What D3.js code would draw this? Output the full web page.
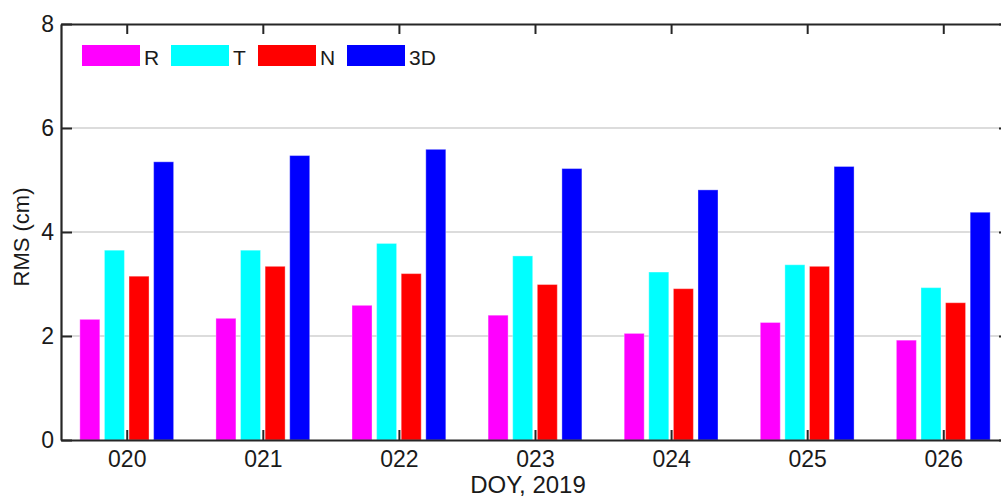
<!DOCTYPE html>
<html>
<head>
<meta charset="utf-8">
<script src="https://cdn.jsdelivr.net/npm/d3@7/dist/d3.min.js"></script>
<style>
  html, body { margin: 0; padding: 0; background: #fff; }
  svg { display: block; font-family: "Liberation Sans", Arial, Helvetica, sans-serif; }
</style>
</head>
<body>
<svg id="chart" width="1001" height="497"></svg>
<script>
// Day-of-year labels and RMS values (cm) for each component
const days = ["020", "021", "022", "023", "024", "025", "026"];
const series = ["R", "T", "N", "3D"];
const colors = ["#ff00ff", "#00ffff", "#ff0000", "#0000ff"];
const rmsR  = [2.32, 2.34, 2.59, 2.40, 2.05, 2.26, 1.92];
const rmsT  = [3.65, 3.65, 3.78, 3.54, 3.23, 3.37, 2.93];
const rmsN  = [3.15, 3.34, 3.20, 2.99, 2.91, 3.34, 2.64];
const rms3D = [5.35, 5.47, 5.59, 5.22, 4.81, 5.26, 4.38];
const yTicks = [0, 2, 4, 6, 8];

const values = [rmsR, rmsT, rmsN, rms3D];

const svg = d3.select("#chart");
const plotL = 61, plotR = 1009, plotT = 24, plotB = 440;
const ink = "#262626";

const x = d3.scaleLinear().domain([0.517, 7.483]).range([plotL, plotR]);
const y = d3.scaleLinear().domain([0, 8]).range([plotB, plotT]);
const inner = d3.scaleBand().domain(series).range([-49.2, 49.2])
  .paddingInner(0.187).paddingOuter(0.0935);

// horizontal grid
svg.append("g").selectAll("line").data([2, 4, 6]).join("line")
  .attr("x1", plotL).attr("x2", plotR)
  .attr("y1", d => y(d)).attr("y2", d => y(d))
  .attr("stroke", "#dcdcdc").attr("stroke-width", 2);

// bars
const barData = [];
series.forEach((s, si) => days.forEach((d, di) => barData.push({ s, si, di, v: values[si][di] })));
svg.append("g").selectAll("rect").data(barData).join("rect")
  .attr("x", d => x(d.di + 1) + inner(d.s))
  .attr("width", inner.bandwidth())
  .attr("y", d => y(d.v))
  .attr("height", d => y(0) - y(d.v))
  .attr("fill", d => colors[d.si])
  .attr("stroke", "#ffffff").attr("stroke-opacity", 0.35).attr("stroke-width", 1);

// axes drawn with d3 axis generators, ticks pointing inward
const fmtDay = i => days[i - 1];
const catTicks = d3.range(1, days.length + 1);

const gBottom = svg.append("g").attr("transform", `translate(0,${plotB})`)
  .call(d3.axisBottom(x).tickValues(catTicks).tickFormat(fmtDay).tickSizeInner(-10).tickSizeOuter(0).tickPadding(11));
const gTop = svg.append("g").attr("transform", `translate(0,${plotT})`)
  .call(d3.axisTop(x).tickValues(catTicks).tickFormat("").tickSizeInner(-10).tickSizeOuter(0));
const gLeft = svg.append("g").attr("transform", `translate(${plotL},0)`)
  .call(d3.axisLeft(y).tickValues(yTicks).tickFormat(d3.format("d")).tickSizeInner(-11).tickSizeOuter(0).tickPadding(7));
const gRight = svg.append("g").attr("transform", `translate(${plotR},0)`)
  .call(d3.axisRight(y).tickValues(yTicks).tickFormat("").tickSizeInner(-10).tickSizeOuter(0));

[gBottom, gTop, gLeft, gRight].forEach(g => {
  g.select(".domain").attr("stroke", ink).attr("stroke-width", 2.2);
  g.selectAll(".tick line").attr("stroke", ink).attr("stroke-width", 2);
  g.selectAll(".tick text").attr("fill", "#1a1a1a").attr("font-size", 23)
    .attr("font-family", "Liberation Sans, Arial, sans-serif");
});
gBottom.selectAll(".tick text").attr("dy", "0.7em");

// axis titles
svg.append("text")
  .attr("x", 528).attr("y", 493)
  .attr("text-anchor", "middle").attr("font-size", 24).attr("fill", "#1a1a1a")
  .text("DOY, 2019");
svg.append("text")
  .attr("transform", `translate(29,${(plotT + plotB) / 2 + 5}) rotate(-90)`)
  .attr("text-anchor", "middle").attr("font-size", 22).attr("fill", "#1a1a1a")
  .text("RMS (cm)");

// legend
const legendX = [82, 171, 258, 347];
const lg = svg.append("g").selectAll("g").data(series).join("g")
  .attr("transform", (d, i) => `translate(${legendX[i]},45)`);
lg.append("rect").attr("width", 58).attr("height", 21).attr("fill", (d, i) => colors[i]);
lg.append("text").attr("x", 62).attr("y", 19.5)
  .attr("font-size", 21).attr("fill", "#1a1a1a").text(d => d);
</script>
</body>
</html>
